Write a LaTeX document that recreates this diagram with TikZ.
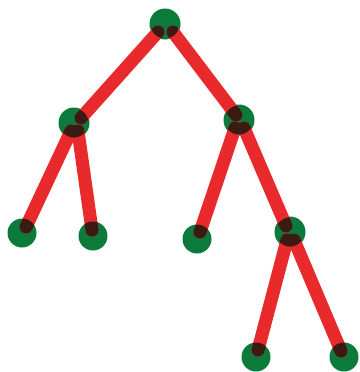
\documentclass[tikz,border=0pt]{standalone}
\definecolor{markerred}{HTML}{E82A2C}
\definecolor{markergreen}{HTML}{0B7A3B}
\definecolor{markerbrown}{HTML}{3A1A12}
\newcommand\treeEdges[1]{%
  \draw[edge,#1] ([shift={(-7,8)}]r.center) -- ([shift={(7,-5)}]a.center);
  \draw[edge,#1] ([shift={(8,8)}]r.center) -- ([shift={(-3,-5)}]b.center);
  \draw[edge,#1] ([shift={(-3,8)}]a.center) -- ([shift={(4,-6)}]aa.center);
  \draw[edge,#1] ([shift={(4,8)}]a.center) -- ([shift={(-1,-6)}]ab.center);
  \draw[edge,#1] ([shift={(-4,8)}]b.center) -- ([shift={(3,-7)}]ba.center);
  \draw[edge,#1] ([shift={(5,8)}]b.center) -- ([shift={(-4,-6)}]bb.center);
  \draw[edge,#1] ([shift={(-3,8)}]bb.center) -- ([shift={(2,-7)}]bba.center);
  \draw[edge,#1] ([shift={(4,8)}]bb.center) -- ([shift={(-3,-6)}]bbb.center);
}
\begin{document}
\begin{tikzpicture}[x=1pt,y=-1pt,
  blob/.style={circle,fill=markergreen,inner sep=0pt,minimum size=31pt},
  leafblob/.style={blob,minimum size=29pt},
  edge/.style={markerred,line width=13pt,line cap=round}]
\fill[white] (0,0) rectangle (359,372);
\useasboundingbox (0,0) rectangle (359,372);
\node[blob] (r) at (165,24) {};
\node[blob] (a) at (74,123) {};
\node[blob] (b) at (239,120) {};
\node[leafblob] (aa) at (22,233) {};
\node[leafblob] (ab) at (93,236) {};
\node[leafblob] (ba) at (197,239) {};
\node[blob] (bb) at (290,232) {};
\node[leafblob] (bba) at (256,357) {};
\node[leafblob] (bbb) at (344,357) {};
\treeEdges{}
\foreach \n in {r,a,b,aa,ab,ba,bb,bba,bbb}{
  \begin{scope}
    \clip (\n.center) circle (14.5);
    \treeEdges{markerbrown}
  \end{scope}
}
\end{tikzpicture}
\end{document}
